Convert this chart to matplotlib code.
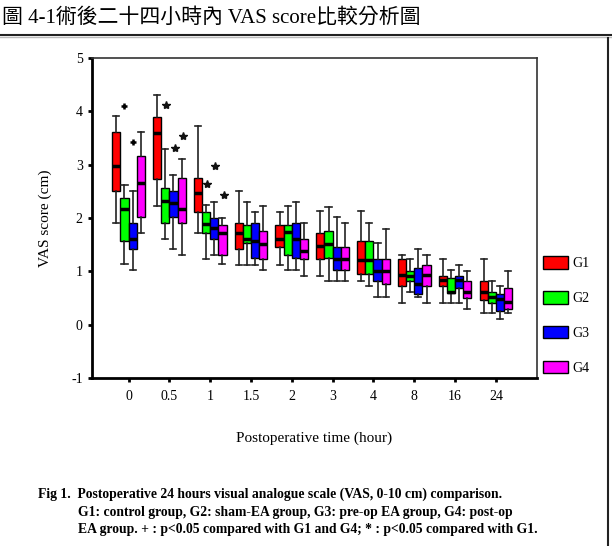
import numpy as np
import matplotlib
matplotlib.use('Agg')
from matplotlib import pyplot as plt
from matplotlib.patches import Patch
from matplotlib.lines import Line2D

times = ['0', '0.5', '1', '1.5', '2', '3', '4', '8', '16', '24']
groups = ['G1', 'G2', 'G3', 'G4']
colors = ['#ff0000', '#00ff00', '#0000ff', '#ff00ff']

# box stats per group
g1_hi = [3.91, 4.31, 3.72, 2.51, 2.11, 2.12, 2.12, 1.31, 1.23, 1.23]
g1_q3 = [3.61, 3.90, 2.75, 1.90, 1.86, 1.72, 1.56, 1.22, 0.91, 0.81]
g1_med = [2.97, 3.60, 2.47, 1.72, 1.61, 1.48, 1.21, 0.93, 0.83, 0.61]
g1_q1 = [2.51, 2.73, 2.11, 1.41, 1.46, 1.23, 0.95, 0.72, 0.72, 0.46]
g1_lo = [1.91, 2.22, 1.71, 1.11, 1.12, 0.91, 0.81, 0.40, 0.40, 0.21]

g2_hi = [2.61, 3.29, 2.24, 2.30, 2.23, 2.20, 1.91, 1.23, 1.02, 0.81]
g2_q3 = [2.37, 2.56, 2.11, 1.86, 1.86, 1.75, 1.56, 1.01, 0.87, 0.61]
g2_med = [2.16, 2.31, 1.88, 1.61, 1.73, 1.51, 1.21, 0.91, 0.61, 0.51]
g2_q1 = [1.56, 1.90, 1.71, 1.53, 1.31, 1.25, 0.95, 0.81, 0.59, 0.40]
g2_lo = [1.13, 1.61, 1.22, 1.12, 1.02, 0.81, 0.72, 0.61, 0.41, 0.21]

g3_hi = [2.51, 2.81, 2.30, 2.11, 2.30, 2.01, 1.53, 1.42, 1.12, 0.73]
g3_q3 = [1.90, 2.51, 2.00, 1.90, 1.90, 1.46, 1.22, 1.06, 0.91, 0.58]
g3_med = [1.61, 2.27, 1.81, 1.56, 1.61, 1.23, 1.01, 0.76, 0.83, 0.47]
g3_q1 = [1.41, 2.01, 1.61, 1.25, 1.25, 1.02, 0.81, 0.57, 0.69, 0.26]
g3_lo = [1.02, 1.42, 1.31, 1.12, 1.02, 0.81, 0.51, 0.51, 0.40, 0.11]

g4_hi = [3.61, 3.11, 2.00, 2.23, 1.90, 1.91, 1.79, 1.31, 1.01, 1.01]
g4_q3 = [3.16, 2.75, 1.86, 1.75, 1.61, 1.46, 1.23, 1.12, 0.81, 0.68]
g4_med = [2.66, 2.16, 1.72, 1.51, 1.37, 1.23, 1.01, 0.92, 0.61, 0.42]
g4_q1 = [2.01, 1.90, 1.31, 1.23, 1.23, 1.02, 0.76, 0.72, 0.50, 0.29]
g4_lo = [1.71, 1.31, 1.13, 1.02, 0.91, 0.81, 0.51, 0.40, 0.29, 0.21]

# significance marks: (group index, time index, value)
plus_marks = [(1, 0, 4.10), (2, 0, 3.42)]
star_marks = [(1, 1, 4.11), (2, 1, 3.31), (3, 1, 3.54),
              (1, 2, 2.64), (2, 2, 2.98), (3, 2, 2.42)]

all_stats = [
    (g1_lo, g1_q1, g1_med, g1_q3, g1_hi),
    (g2_lo, g2_q1, g2_med, g2_q3, g2_hi),
    (g3_lo, g3_q1, g3_med, g3_q3, g3_hi),
    (g4_lo, g4_q1, g4_med, g4_q3, g4_hi),
]

serif = ['Liberation Serif', 'DejaVu Serif']
plt.rcParams['font.family'] = serif
plt.rcParams['axes.unicode_minus'] = False

fig = plt.figure(figsize=(6.12, 5.46), dpi=100)
ax = fig.add_axes([0.150, 0.308, 0.727, 0.586])

offsets = [-0.3, -0.1, 0.1, 0.3]
x = np.arange(len(times))

for gi, (lo, q1, med, q3, hi) in enumerate(all_stats):
    stats = []
    for i in range(len(times)):
        stats.append({'whislo': lo[i], 'q1': q1[i], 'med': med[i],
                      'q3': q3[i], 'whishi': hi[i], 'fliers': []})
    ax.bxp(stats, positions=x + offsets[gi], widths=0.2, patch_artist=True,
           showfliers=False, manage_ticks=False,
           boxprops=dict(facecolor=colors[gi], edgecolor='black', linewidth=1),
           medianprops=dict(color='black', linewidth=2.5),
           whiskerprops=dict(color='#222222', linewidth=1.2),
           capprops=dict(color='#222222', linewidth=1.2),
           capwidths=0.15)

for gi, ti, v in plus_marks:
    ax.plot(ti + offsets[gi], v, marker='+', color='black', ms=5, mew=1.8)
for gi, ti, v in star_marks:
    ax.plot(ti + offsets[gi] + 0.03, v, marker='*', color='#111111', ms=6)

ax.set_xlim(-0.9, 10.0)
ax.set_ylim(-1, 5)
ax.set_yticks(range(-1, 6))
ax.set_xticks(x)
ax.set_xticklabels(times)
ax.tick_params(axis='both', length=3, width=2, labelsize=10, color='black')
ax.tick_params(axis='x', pad=6)
for s in ['left', 'bottom']:
    ax.spines[s].set_linewidth(2)
for s in ['top', 'right']:
    ax.spines[s].set_linewidth(1.2)
    ax.spines[s].set_color('#333333')

ax.set_ylabel('VAS score (cm)', fontsize=11, labelpad=14)
ax.set_xlabel('Postoperative time (hour)', fontsize=11, labelpad=20)

handles = [Patch(facecolor=c, edgecolor='black', linewidth=1) for c in colors]
fig.legend(handles, groups, loc='center left', bbox_to_anchor=(0.888, 0.422),
           frameon=False, fontsize=10, handlelength=1.8, handleheight=1.0,
           handletextpad=0.3, labelspacing=1.5, borderpad=0, borderaxespad=0)

# page title with rule underneath
fig.text(0.003, 0.967, '圖 4-1術後二十四小時內 VAS score比較分析圖',
         family=['Liberation Serif', 'Noto Sans CJK TC'], fontsize=15,
         va='center', ha='left')
fig.add_artist(Line2D([0, 1], [0.936, 0.936], color='#222222', lw=1.5))
fig.add_artist(Line2D([0, 1], [0.932, 0.932], color='#bbbbbb', lw=1))
fig.add_artist(Line2D([0.993, 0.993], [0, 0.93], color='#222222', lw=1.5))

caption = ['Fig 1.  Postoperative 24 hours visual analogue scale (VAS, 0-10 cm) comparison.',
           'G1: control group, G2: sham-EA group, G3: pre-op EA group, G4: post-op',
           'EA group. + : p<0.05 compared with G1 and G4; * : p<0.05 compared with G1.']
fig.text(0.062, 0.095, caption[0], fontsize=9.8, fontweight='bold', va='center')
fig.text(0.127, 0.062, caption[1], fontsize=9.8, fontweight='bold', va='center')
fig.text(0.127, 0.030, caption[2], fontsize=9.8, fontweight='bold', va='center')

fig.savefig('out.png', dpi=100)
